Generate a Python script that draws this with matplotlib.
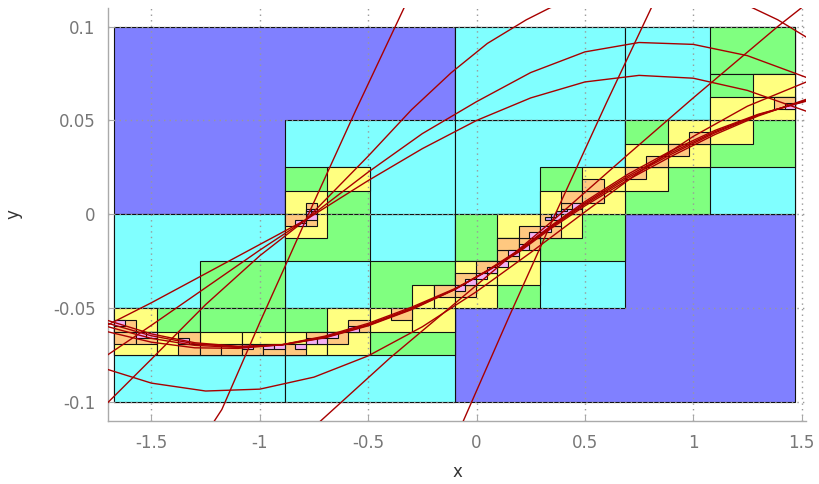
import matplotlib
matplotlib.use("Agg")
import matplotlib.pyplot as plt
from matplotlib.patches import Rectangle

# ---------------- data ----------------
# paving domain (x, y) and the grid resolution of the box indices below
X_MIN, X_MAX = -1.6708, 1.4708
Y_MIN, Y_MAX = -0.1, 0.1
GRID_N = 128

# boxes as (i0, i1, j0, j1) in 1/128 of the domain, one list per depth colour
boxes_l1 = [(0, 64, 0, 64), (64, 128, 0, 64), (0, 64, 64, 128), (64, 128, 64, 128)]
boxes_l2 = [(0, 32, 0, 32), (0, 32, 32, 64), (32, 64, 0, 32), (32, 64, 32, 64),
            (32, 64, 64, 96), (64, 96, 32, 64), (64, 96, 64, 96), (64, 96, 96, 128),
            (96, 128, 64, 96), (96, 128, 96, 128)]
boxes_l3 = [(32, 48, 64, 80), (16, 32, 32, 48), (0, 16, 16, 32), (16, 32, 16, 32),
            (32, 48, 16, 32), (48, 64, 16, 32), (48, 64, 32, 48), (32, 48, 48, 64),
            (64, 80, 48, 64), (80, 96, 48, 64), (64, 80, 32, 48), (80, 96, 64, 80),
            (112, 128, 112, 128), (112, 128, 96, 112), (96, 112, 80, 96),
            (112, 128, 80, 96), (96, 112, 64, 80)]
boxes_l4 = [(40, 48, 72, 80), (32, 40, 64, 72), (32, 40, 56, 64),
            (0, 8, 24, 32), (0, 8, 16, 24), (8, 16, 16, 24), (16, 24, 16, 24), (24, 32, 16, 24),
            (40, 48, 24, 32), (32, 40, 16, 24), (40, 48, 16, 24), (48, 56, 24, 32), (56, 64, 24, 32),
            (56, 60, 32, 40), (60, 64, 32, 40),
            (64, 72, 40, 48), (64, 72, 32, 40), (72, 80, 40, 48),
            (72, 80, 56, 64), (72, 80, 48, 56), (80, 88, 56, 64),
            (80, 88, 64, 72), (88, 96, 64, 72), (88, 96, 72, 80),
            (96, 104, 72, 80), (104, 112, 88, 96), (96, 104, 80, 88), (104, 112, 80, 88),
            (112, 120, 88, 96), (120, 128, 104, 112), (112, 120, 96, 104), (120, 128, 96, 104)]
boxes_l5 = [(0, 4, 24, 28), (0, 4, 20, 24), (4, 8, 20, 24), (12, 16, 20, 24), (12, 16, 16, 20),
            (16, 20, 16, 20), (20, 24, 16, 20), (24, 28, 16, 20), (28, 32, 16, 20),
            (32, 36, 16, 20), (36, 40, 20, 24), (40, 44, 20, 24), (44, 48, 24, 28), (52, 56, 28, 32),
            (36, 38, 64, 68), (32, 38, 60, 64),
            (60, 64, 36, 40), (64, 68, 36, 40), (64, 68, 40, 44), (68, 72, 44, 48),
            (72, 76, 48, 52), (72, 76, 52, 56), (76, 80, 52, 56), (76, 80, 56, 60),
            (80, 84, 56, 60), (80, 84, 60, 64), (84, 88, 64, 68), (84, 88, 68, 72),
            (88, 92, 68, 72), (88, 92, 72, 76),
            (96, 100, 76, 80), (100, 104, 80, 84), (104, 108, 84, 88), (108, 112, 88, 92),
            (124, 128, 100, 104)]
boxes_l6 = [(0, 2, 26, 28), (4, 6, 22, 24), (6, 8, 22, 24), (12, 14, 20, 22), (24, 26, 18, 20),
            (28, 30, 18, 20), (30, 32, 18, 20), (34, 36, 18, 20), (36, 38, 20, 22), (38, 40, 20, 22),
            (40, 42, 22, 24), (44, 46, 24, 26),
            (36, 38, 64, 66), (34, 36, 60, 62), (36, 38, 62, 64),
            (64, 66, 38, 40), (66, 68, 40, 42), (68, 70, 42, 44), (70, 72, 44, 46),
            (72, 74, 46, 48), (74, 76, 50, 52), (76, 78, 52, 54), (78, 80, 56, 58),
            (80, 82, 58, 60), (82, 84, 62, 64), (84, 86, 64, 66), (86, 88, 66, 68),
            (126, 128, 100, 102)]
boxes_l7 = [(36, 37, 64, 65), (37, 38, 65, 66), (35, 36, 61, 62),
            (81, 82, 62, 63), (82, 83, 63, 64), (83, 84, 64, 65), (84, 85, 65, 66)]

level_colors = ["#8080ff", "#80ffff", "#80ff80", "#ffff80", "#ffc880", "#f4b0f4", "#c8a0ff"]

# red curves (x, y)
curve_A_x = [-1.21, -1.175, -1.00, -0.884, -0.787, -0.556, -0.334]
curve_A_y = [-0.110, -0.1038, -0.0575, -0.0278, -0.0028, 0.0557, 0.110]
curve_B_x = [-0.06, 0.15, 0.355, 0.60, 0.807]
curve_B_y = [-0.1097, -0.0545, -0.0020, 0.0595, 0.110]
curve_P1_x = [-1.70, -1.50, -1.25, -1.00, -0.787, -0.50, -0.25, 0.00, 0.25, 0.50, 0.75, 1.00, 1.25, 1.52]
curve_P1_y = [-0.0587, -0.0470, -0.0315, -0.0160, -0.0028, 0.0180, 0.0350, 0.0500, 0.0620, 0.0705, 0.0740, 0.0725, 0.0660, 0.0550]
curve_P2_x = [-1.70, -1.50, -1.25, -1.00, -0.787, -0.50, -0.25, 0.00, 0.25, 0.50, 0.75, 1.00, 1.25, 1.52]
curve_P2_y = [-0.0746, -0.0590, -0.0390, -0.0190, -0.0028, 0.0225, 0.0430, 0.0600, 0.0755, 0.0865, 0.0915, 0.0905, 0.0845, 0.0730]
curve_P3_x = [-1.70, -1.50, -1.25, -1.00, -0.787, -0.50, -0.30, -0.117, 0.05, 0.23, 0.34, 0.60, 0.90, 1.20, 1.39, 1.52]
curve_P3_y = [-0.1000, -0.0770, -0.0480, -0.0220, -0.0028, 0.0310, 0.0557, 0.0754, 0.0910, 0.1036, 0.1100, 0.1200, 0.1220, 0.1140, 0.1036, 0.0945]
curve_L1_x = [-1.70, -1.50, -1.25, -1.00, -0.75, -0.50, -0.25, 0.00, 0.25, 0.50, 0.75, 1.00, 1.25, 1.52]
curve_L1_y = [-0.0826, -0.0898, -0.0940, -0.0930, -0.0866, -0.0753, -0.0598, -0.0411, -0.0203, 0.0013, 0.0224, 0.0415, 0.0576, 0.0704]
curve_L2_x = [-0.72, -0.40, -0.07, 0.355, 0.70, 1.00, 1.39, 1.50]
curve_L2_y = [-0.110, -0.0765, -0.0445, -0.0030, 0.0320, 0.0620, 0.1000, 0.1100]
bundle_x = [-1.70, -1.50, -1.30, -1.10, -0.90, -0.70, -0.50, -0.30, -0.10, 0.05, 0.20, 0.35, 0.50, 0.70, 0.90, 1.10, 1.30, 1.52]
bundle_M1 = [-0.0565, -0.0636, -0.0683, -0.0702, -0.0695, -0.0657, -0.0593, -0.0507, -0.0400, -0.0298, -0.0186, -0.0055, 0.0068, 0.0215, 0.0340, 0.0447, 0.0533, 0.0602]
bundle_M2 = [-0.0580, -0.0646, -0.0689, -0.0705, -0.0695, -0.0655, -0.0590, -0.0504, -0.0399, -0.0300, -0.0190, -0.0060, 0.0060, 0.0205, 0.0330, 0.0440, 0.0530, 0.0605]
bundle_M3 = [-0.0598, -0.0660, -0.0697, -0.0708, -0.0694, -0.0652, -0.0586, -0.0500, -0.0398, -0.0301, -0.0193, -0.0064, 0.0053, 0.0196, 0.0321, 0.0434, 0.0528, 0.0608]
bundle_M4 = [-0.0625, -0.0680, -0.0710, -0.0713, -0.0694, -0.0648, -0.0580, -0.0494, -0.0395, -0.0302, -0.0197, -0.0070, 0.0045, 0.0185, 0.0310, 0.0425, 0.0524, 0.0612]

x_ticks = [-1.5, -1, -0.5, 0, 0.5, 1, 1.5]
x_tick_labels = ["-1.5", "-1", "-0.5", "0", "0.5", "1", "1.5"]
y_ticks = [-0.1, -0.05, 0, 0.05, 0.1]
y_tick_labels = ["-0.1", "-0.05", "0", "0.05", "0.1"]

# ---------------- plot ----------------
fig = plt.figure(figsize=(8.19, 4.84), dpi=100)
ax = fig.add_axes([0.132, 0.130, 0.852, 0.854])

dx = (X_MAX - X_MIN) / GRID_N
dy = (Y_MAX - Y_MIN) / GRID_N
for lvl, boxes in enumerate([boxes_l1, boxes_l2, boxes_l3, boxes_l4, boxes_l5, boxes_l6, boxes_l7]):
    for (i0, i1, j0, j1) in boxes:
        ax.add_patch(Rectangle((X_MIN + i0 * dx, Y_MIN + j0 * dy), (i1 - i0) * dx, (j1 - j0) * dy,
                               facecolor=level_colors[lvl], edgecolor="#111111",
                               linewidth=0.8, zorder=1 + lvl * 0.01))

red = "#a80000"
curves = [(curve_A_x, curve_A_y), (curve_B_x, curve_B_y), (curve_P1_x, curve_P1_y),
          (curve_P2_x, curve_P2_y), (curve_P3_x, curve_P3_y), (curve_L1_x, curve_L1_y),
          (curve_L2_x, curve_L2_y), (bundle_x, bundle_M1), (bundle_x, bundle_M2),
          (bundle_x, bundle_M3), (bundle_x, bundle_M4)]
for cx, cy in curves:
    ax.plot(cx, cy, color=red, linewidth=1.0, zorder=4)

ax.set_xlim(-1.70, 1.52)
ax.set_ylim(-0.11, 0.11)
ax.set_xticks(x_ticks)
ax.set_xticklabels(x_tick_labels)
ax.set_yticks(y_ticks)
ax.set_yticklabels(y_tick_labels)
ax.grid(True, color="#999999", linestyle=(0, (1, 3)), linewidth=1.0, zorder=3)
ax.set_axisbelow(False)
for s in ["top", "right"]:
    ax.spines[s].set_visible(False)
for s in ["left", "bottom"]:
    ax.spines[s].set_color("#aaaaaa")
    ax.spines[s].set_linewidth(1.0)
ax.tick_params(axis="both", colors="#aaaaaa", labelcolor="#777777", labelsize=12, length=4, direction="in")
ax.tick_params(axis="x", pad=9.5)
ax.tick_params(axis="y", pad=9)
ax.set_xlabel("x", fontsize=12, color="#333333", labelpad=8)
ax.set_ylabel("y", fontsize=12, color="#333333", labelpad=22)

fig.savefig("out.png", dpi=100)
